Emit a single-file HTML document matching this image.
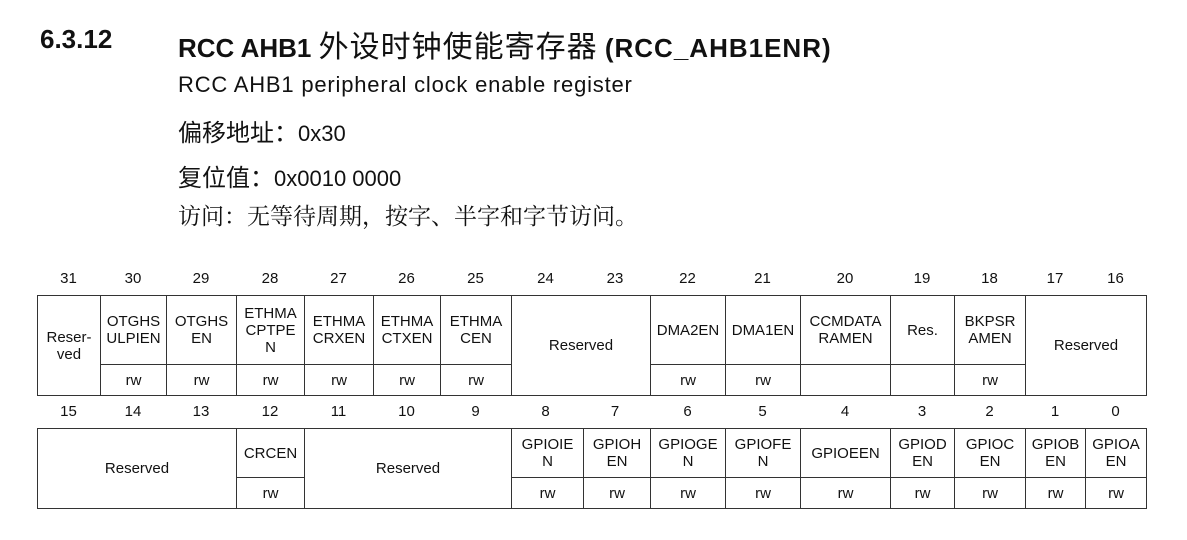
<!DOCTYPE html>
<html><head><meta charset="utf-8"><style>
body{margin:0;width:1187px;height:540px;background:#fff;position:relative;overflow:hidden;font-family:"Liberation Sans","Noto Sans CJK SC",sans-serif;color:#111}
.t{position:absolute;white-space:nowrap}
.h{font-weight:bold;font-size:26px;top:24px}
.cj{font-weight:normal;font-size:30px;letter-spacing:1px}
.p{font-size:22px;left:178px}
.z{font-size:24px}
.n{position:absolute;font-size:15px;text-align:center;width:60px;margin-left:-30px}
.c{position:absolute;border:1px solid #333;box-sizing:border-box;display:flex;align-items:center;justify-content:center;text-align:center;font-size:15px;line-height:17px}
</style></head><body>
<div class="t h" style="left:40px">6.3.12</div>
<div class="t h" style="left:178px;top:22px">RCC AHB1 <span class="cj">外设时钟使能寄存器</span> <span style="letter-spacing:1px">(RCC_AHB1ENR)</span></div>
<div class="t p" style="top:72px;letter-spacing:0.8px">RCC AHB1 peripheral clock enable register</div>
<div class="t p" style="top:113px"><span class="z">偏移地址：</span>0x30</div>
<div class="t p" style="top:158px"><span class="z">复位值：</span>0x0010 0000</div>
<div class="t p" style="top:198px;font-size:23px;font-family:'Noto Serif CJK SC','Liberation Sans',serif">访问：无等待周期，按字、半字和字节访问。</div>
<div id="g"></div>
<script>
var b=[37,100,166,236,304,373,440,511,580,650,725,800,890,954,1025,1085,1146];
var H='';
function num(top,start){for(var i=0;i<16;i++){var x=(b[i]+b[i+1])/2;H+='<div class="n" style="left:'+x+'px;top:'+top+'px">'+(start-i)+'</div>';}}
function cell(x1,x2,y1,y2,t){H+='<div class="c" style="left:'+x1+'px;top:'+y1+'px;width:'+(x2-x1+1)+'px;height:'+(y2-y1+1)+'px">'+t+'</div>';}
num(270,31);num(403,15);
var T1=295,M1=364,B1=395,T2=428,M2=477,B2=508;
cell(37,100,T1,B1,'Reser-<br>ved');
var r1=[[100,166,'OTGHS<br>ULPIEN','rw'],[166,236,'OTGHS<br>EN','rw'],[236,304,'ETHMA<br>CPTPE<br>N','rw'],[304,373,'ETHMA<br>CRXEN','rw'],[373,440,'ETHMA<br>CTXEN','rw'],[440,511,'ETHMA<br>CEN','rw'],[650,725,'DMA2EN','rw'],[725,800,'DMA1EN','rw'],[800,890,'CCMDATA<br>RAMEN',''],[890,954,'Res.',''],[954,1025,'BKPSR<br>AMEN','rw']];
r1.forEach(function(a){cell(a[0],a[1],T1,M1,a[2]);cell(a[0],a[1],M1,B1,a[3]);});
cell(511,650,T1,B1,'Reserved');cell(1025,1146,T1,B1,'Reserved');
cell(37,236,T2,B2,'Reserved');cell(304,511,T2,B2,'Reserved');
var r2=[[236,304,'CRCEN'],[511,583,'GPIOIE<br>N'],[583,650,'GPIOH<br>EN'],[650,725,'GPIOGE<br>N'],[725,800,'GPIOFE<br>N'],[800,890,'GPIOEEN'],[890,954,'GPIOD<br>EN'],[954,1025,'GPIOC<br>EN'],[1025,1085,'GPIOB<br>EN'],[1085,1146,'GPIOA<br>EN']];
r2.forEach(function(a){cell(a[0],a[1],T2,M2,a[2]);cell(a[0],a[1],M2,B2,'rw');});
document.getElementById('g').innerHTML=H;
</script>
</body></html>
